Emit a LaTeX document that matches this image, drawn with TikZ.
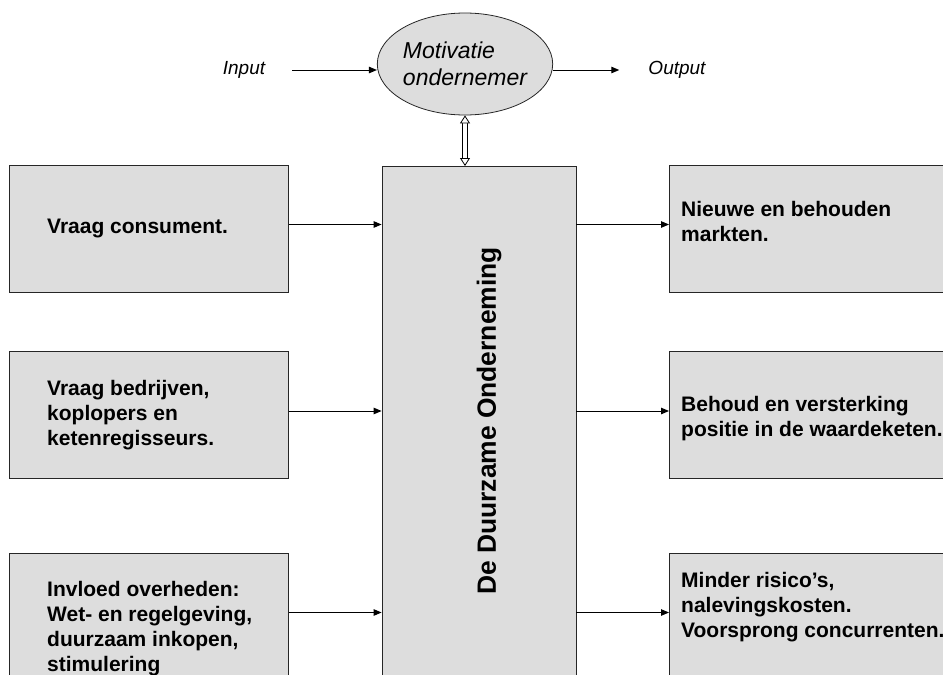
\documentclass[tikz,border=0pt]{standalone}
\usepackage{fontspec}
\setmainfont{Liberation Sans}
\usepackage{tikz}
\usetikzlibrary{arrows.meta,shapes,positioning}
\definecolor{boxgray}{RGB}{221,221,221}
\tikzstyle{box}=[draw=black!85,line width=0.8pt,fill=boxgray,minimum height=127pt,inner sep=0pt]
\tikzstyle{lbox}=[box,minimum width=279pt]
\tikzstyle{rbox}=[box,minimum width=284pt]
\tikzstyle{boxtext}=[align=left,inner sep=0pt,font=\fontsize{21}{25}\selectfont\bfseries]
\tikzstyle{io}=[inner sep=3pt,font=\fontsize{19}{22}\selectfont\itshape]
\tikzstyle{arrow}=[draw,line width=1pt,-{Triangle[length=8pt,width=6.5pt]}]
\tikzstyle{dblarrow}=[draw,double,double distance=3.5pt,line width=0.9pt,
    {Triangle[fill=white,line width=0.8pt,length=8pt,width=10pt]}-{Triangle[fill=white,line width=0.8pt,length=8pt,width=10pt]}]

\begin{document}
\begin{tikzpicture}[x=1pt,y=-1pt]
    \useasboundingbox (0,0) rectangle (943,675);
    \clip (0,0) rectangle (943,675);
    % motivation on top
    \node[ellipse,draw=black!85,line width=0.8pt,fill=boxgray,minimum width=170pt,minimum height=102pt,
          inner sep=0pt,align=left,font=\fontsize{23}{26.7}\selectfont\itshape] (mot) at (465,64) {Motivatie\\ondernemer};
    \node[io] (inp) at (244,70) {Input};
    \node[io] (outp) at (677,70) {Output};
    \path[arrow,shorten <=24pt] (inp.east) -- (inp.east -| mot.west);
    \path[arrow,shorten >=26pt] (mot.east |- outp.west) -- (outp.west);
    % the company
    \node[box,minimum width=194pt,minimum height=540pt,anchor=north] (duo) at (479,166) {};
    \node[rotate=90,inner sep=0pt,font=\fontsize{26.4}{30}\selectfont\bfseries] (duo-txt)
        at ([xshift=10pt,yshift=-255pt]duo.north) {De Duurzame Onderneming};
    \path[dblarrow] (mot.south) -- (mot.south |- duo.north);
    % inputs
    \foreach \name/\ypos/\dy/\txt in {v1/228.5/0/{Vraag consument.},
        v2/415/0/{Vraag bedrijven,\\koplopers en\\ketenregisseurs.},
        v3/616.5/-12.5/{Invloed overheden:\\Wet- en regelgeving,\\duurzaam inkopen,\\stimulering}}
    {
        \node[lbox,anchor=west] (\name) at (9,\ypos) {};
        \node[boxtext,anchor=west] (\name-txt) at ([xshift=38pt,yshift=\dy pt]\name.west) {\txt};
        \coordinate (\name-a) at ([yshift=4pt]\name.east);
        \path[arrow] (\name-a) -- (\name-a -| duo.west);
    }
    % outputs
    \foreach \name/\ypos/\dy/\txt in {r1/228.5/7/{Nieuwe en behouden\\markten.},
        r2/415/-3.5/{Behoud en versterking\\positie in de waardeketen.},
        r3/616.5/9/{Minder risico's,\\nalevingskosten.\\Voorsprong concurrenten.}}
    {
        \node[rbox,anchor=west] (\name) at (669,\ypos) {};
        \node[boxtext,anchor=west] (\name-txt) at ([xshift=12pt,yshift=\dy pt]\name.west) {\txt};
        \coordinate (\name-a) at ([yshift=4pt]\name.west);
        \path[arrow] (\name-a -| duo.east) -- (\name-a);
    }
\end{tikzpicture}
\end{document}
